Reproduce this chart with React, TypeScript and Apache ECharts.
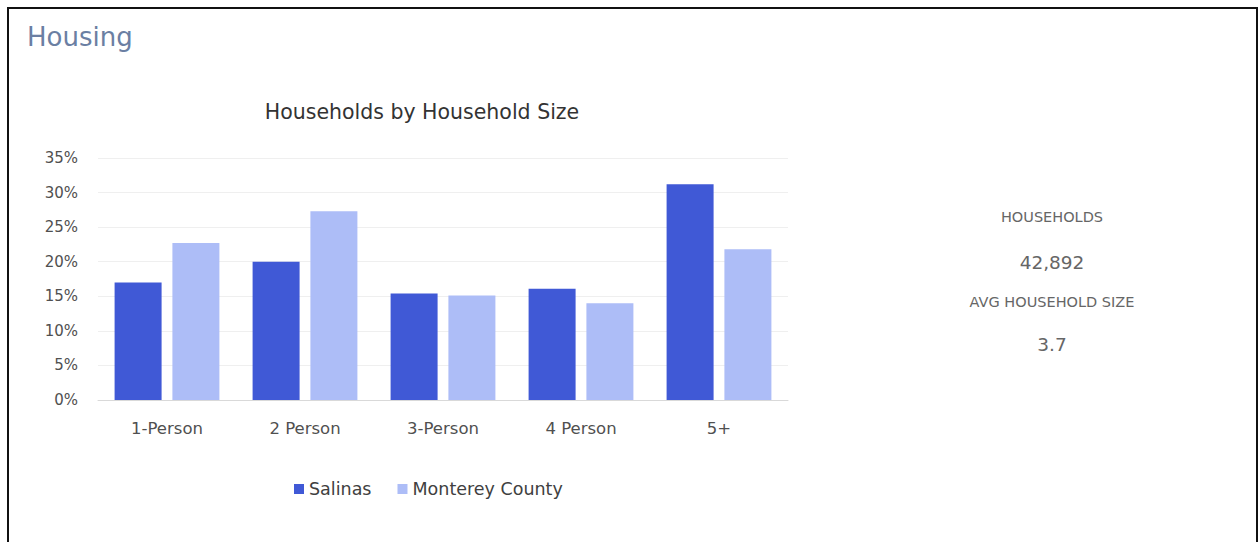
import React, { useEffect, useRef } from "react";
import * as echarts from "echarts";

const categories = ["1-Person", "2 Person", "3-Person", "4 Person", "5+"];
const salinas = [17.0, 20.0, 15.4, 16.1, 31.2];
const monterey = [22.7, 27.3, 15.1, 14.0, 21.8];
const yTicks = { min: 0, max: 35, interval: 5 };
const stats = [
  { label: "HOUSEHOLDS", value: "42,892" },
  { label: "AVG HOUSEHOLD SIZE", value: "3.7" },
];

const FONT = "'DejaVu Sans', sans-serif";

export default function App() {
  const ref = useRef<HTMLDivElement>(null);
  useEffect(() => {
    if (!ref.current) return;
    const chart = echarts.init(ref.current, undefined, { renderer: "svg" });
    chart.setOption({
      animation: false,
      textStyle: { fontFamily: FONT },
      legend: {
        data: ["Salinas", "Monterey County"],
        left: 280,
        top: 466,
        icon: "rect",
        itemWidth: 10,
        itemHeight: 10,
        itemGap: 26,
        textStyle: { fontSize: 17.5, color: "#404040", fontFamily: FONT },
      },
      grid: { left: 89, top: 149, width: 690, height: 242, containLabel: false },
      xAxis: {
        type: "category",
        data: categories,
        axisLine: { lineStyle: { color: "#d9d9d9" } },
        axisTick: { show: false },
        axisLabel: { color: "#505050", fontSize: 16.5, margin: 20, fontFamily: FONT },
      },
      yAxis: {
        type: "value",
        min: yTicks.min,
        max: yTicks.max,
        interval: yTicks.interval,
        axisLabel: { formatter: "{value}%", color: "#505050", fontSize: 15, margin: 20, fontFamily: FONT },
        splitLine: { lineStyle: { color: "#efefef" } },
        axisLine: { show: false },
        axisTick: { show: false },
      },
      series: [
        {
          name: "Salinas",
          type: "bar",
          data: salinas,
          barWidth: 47,
          barGap: "23%",
          itemStyle: { color: "#4059d6" },
        },
        {
          name: "Monterey County",
          type: "bar",
          data: monterey,
          barWidth: 47,
          itemStyle: { color: "#adbdf7" },
        },
      ],
      graphic: [
        {
          type: "text",
          x: 18,
          y: 28,
          style: { text: "Housing", fontSize: 26, fill: "#6b7fa3", verticalAlign: "middle", fontFamily: FONT },
        },
        {
          type: "text",
          x: 413,
          y: 103,
          style: {
            text: "Households by Household Size",
            fontSize: 20.5,
            fill: "#333",
            align: "center",
            verticalAlign: "middle",
            fontFamily: FONT,
          },
        },
        {
          type: "text",
          x: 1043,
          y: 208,
          style: { text: stats[0].label, fontSize: 14.5, fill: "#666", align: "center", verticalAlign: "middle", fontFamily: FONT },
        },
        {
          type: "text",
          x: 1043,
          y: 253,
          style: { text: stats[0].value, fontSize: 18.5, fill: "#666", align: "center", verticalAlign: "middle", fontFamily: FONT },
        },
        {
          type: "text",
          x: 1043,
          y: 293,
          style: { text: stats[1].label, fontSize: 14.5, fill: "#666", align: "center", verticalAlign: "middle", fontFamily: FONT },
        },
        {
          type: "text",
          x: 1043,
          y: 335,
          style: { text: stats[1].value, fontSize: 18.5, fill: "#666", align: "center", verticalAlign: "middle", fontFamily: FONT },
        },
      ],
    });
    return () => chart.dispose();
  }, []);

  return (
    <div
      style={{
        position: "fixed",
        left: 7,
        top: 7,
        width: 1251,
        height: 560,
        boxSizing: "border-box",
        border: "2px solid #111",
        background: "#fff",
      }}
    >
      <div ref={ref} style={{ width: "100%", height: "100%" }} />
    </div>
  );
}
